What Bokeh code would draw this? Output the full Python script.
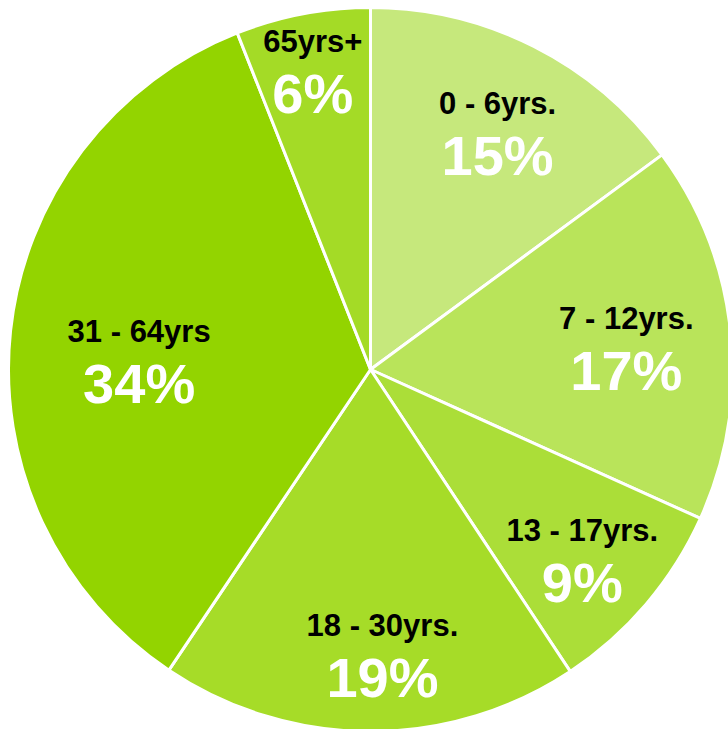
import math
from bokeh.plotting import figure
from bokeh.models import ColumnDataSource
from bokeh.core.properties import value
from bokeh.embed import file_html
from bokeh.resources import INLINE

categories = ["0 - 6yrs.", "7 - 12yrs.", "13 - 17yrs.", "18 - 30yrs.", "31 - 64yrs", "65yrs+"]
shares = [14.9, 16.85, 8.95, 18.7, 34.6, 6.0]          # slice sizes
pct_labels = ["15%", "17%", "9%", "19%", "34%", "6%"]  # labels as printed
colors = ["#C6E87C", "#B9E45A", "#ABDE38", "#A6DC28", "#93D400", "#A4DB26"]
label_radius = [0.75, 0.71, 0.78, 0.78, 0.64, 0.85]
label_angle_shift = [-1.1, -0.5, -1.0, 2.6, 3.15, 0.0]  # degrees

R = 362
total = sum(shares)
starts, ends, lx, ly = [], [], [], []
cum = 0.0
for s_, rf, sh in zip(shares, label_radius, label_angle_shift):
    a0 = math.pi / 2 - 2 * math.pi * cum / total
    cum += s_
    a1 = math.pi / 2 - 2 * math.pi * cum / total
    starts.append(a0)
    ends.append(a1)
    mid = (a0 + a1) / 2 + math.radians(sh)
    lx.append(R * rf * math.cos(mid))
    ly.append(R * rf * math.sin(mid))

src = ColumnDataSource(dict(
    start=starts, end=ends, color=colors, cat=categories,
    pct=pct_labels, x=lx, y=ly,
))

p = figure(width=728, height=729, x_range=(-370, 358), y_range=(-360, 369),
           output_backend="svg", toolbar_location=None, min_border=0)
p.axis.visible = False
p.grid.visible = False
p.outline_line_color = None
p.background_fill_color = "white"

p.wedge(x=0, y=0, radius=R, start_angle="start", end_angle="end", direction="clock",
        fill_color="color", line_color="white", line_width=3, source=src)

p.text(x="x", y="y", text="cat", source=src, text_font=value("Liberation Sans"),
       text_font_style="bold", text_font_size="31px", text_color="black",
       text_align="center", text_baseline="middle", y_offset=-26)
p.text(x="x", y="y", text="pct", source=src, text_font=value("Liberation Sans"),
       text_font_style="bold", text_font_size="56px", text_color="white",
       text_align="center", text_baseline="middle", y_offset=26)

open("out.html", "w").write(file_html(p, INLINE))
